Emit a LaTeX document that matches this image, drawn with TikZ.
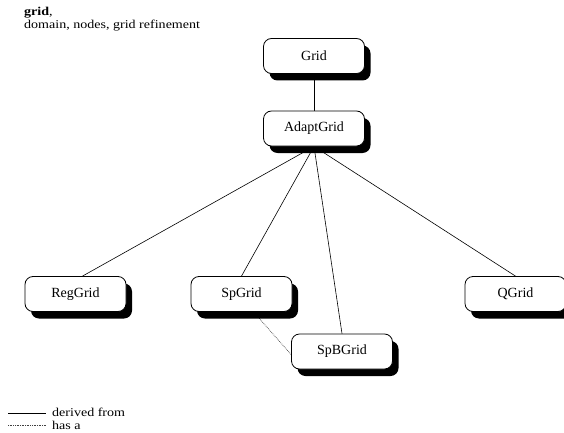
\documentclass[tikz,border=0pt]{standalone}
\usepackage{fontspec}
\setmainfont{Liberation Serif}
\newfontfamily\widefont[FakeStretch=1.17]{Liberation Serif}
\usetikzlibrary{shadows,backgrounds}

\tikzset{
  classbox/.style={draw=black, line width=0.8pt, fill=white, rounded corners=8pt,
    minimum width=101pt, minimum height=35pt, inner sep=2pt,
    font=\fontsize{14}{16}\selectfont,
    drop shadow={shadow xshift=6pt, shadow yshift=-7pt, fill=black, opacity=1}},
  derived/.style={line width=0.6pt},
  hasa/.style={line width=0.7pt, densely dotted, black!75},
  lbl/.style={anchor=base west, inner sep=0pt, font=\widefont\fontsize{12}{12}\selectfont}
}

\begin{document}
\begin{tikzpicture}[x=1pt,y=-1pt]
\useasboundingbox (0,0) rectangle (564,433);

% title
\node[lbl] (title) at (24,15.5) {\textbf{grid},};
\node[lbl] (subtitle) at (24,28.5) {domain, nodes, grid refinement};

% classes
\node[classbox] (grid) at (314,56) {Grid};
\node[classbox] (adapt) at (314,128.5) {AdaptGrid};
\node[classbox] (reg) at (75.5,294) {RegGrid};
\node[classbox] (sp) at (241.5,294) {SpGrid};
\node[classbox] (spb) at (342,351.5) {SpBGrid};
\node[classbox] (q) at (515.5,294) {QGrid};

% links, behind the boxes
\begin{scope}[on background layer]
\draw[derived] (grid) -- (adapt);
\draw[derived] (adapt.south) -- ([xshift=7pt]reg.north);
\draw[derived] (adapt.south) -- (sp.north);
\draw[derived] (adapt.south) -- (spb.north);
\draw[derived] (adapt.south) -- (q.north);
\draw[hasa] ([xshift=12pt]sp.south) -- ([yshift=-3pt]spb.west);
\end{scope}

% legend
\coordinate (solidA) at (8,413);
\coordinate (solidB) at (46,413);
\coordinate (dotA) at (8,425);
\coordinate (dotB) at (46,425);
\draw[derived] (solidA) -- (solidB);
\draw[hasa] (dotA) -- (dotB);
\node[lbl] (derivedlbl) at (52,416.5) {derived from};
\node[lbl] (hasalbl) at (52,429.5) {has a};

\end{tikzpicture}
\end{document}
